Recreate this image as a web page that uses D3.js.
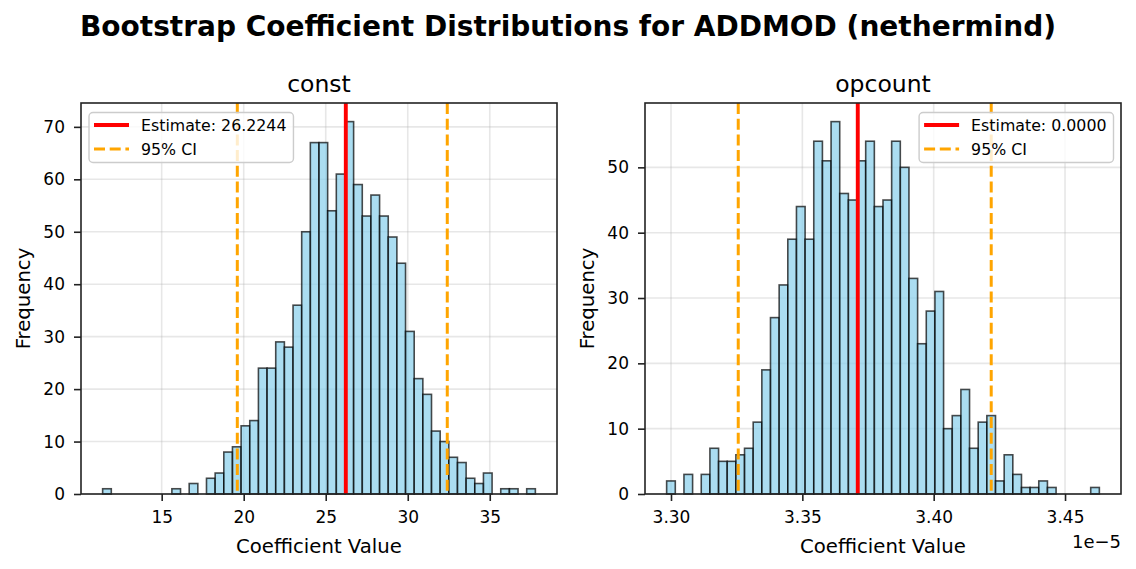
<!DOCTYPE html>
<html>
<head>
<meta charset="utf-8">
<script src="https://cdn.jsdelivr.net/npm/d3@7"></script>
<style>
  body { margin: 0; background: #fff; }
  svg { font-family: "DejaVu Sans", sans-serif; }
</style>
</head>
<body>
<main></main>
<script>
// Pre define necessary variables

const w = 1136;
const h = 569;

// bootstrap histograms, 50 bins each (counts)
const constCounts = [1, 0, 0, 0, 0, 0, 0, 0, 1, 0, 2, 0, 3, 4, 8, 9, 13, 14, 24, 24,
  29, 28, 36, 50, 67, 67, 54, 61, 71, 59, 53, 57, 53, 49, 44, 31, 22, 19, 12, 10,
  7, 6, 3, 2, 4, 0, 1, 1, 0, 1];
const constRange = [11.40, 37.78];
const constEstimate = 26.2244;
const constCI = [19.61, 32.41];
const constTicks = [15, 20, 25, 30, 35];

// opcount values are in units of 1e-5
const opcountCounts = [2, 0, 3, 0, 3, 7, 5, 5, 6, 7, 11, 19, 27, 32, 39, 44, 39, 54, 51, 57,
  46, 45, 51, 54, 44, 45, 54, 50, 33, 23, 28, 31, 10, 12, 16, 7, 11, 12, 2, 6,
  3, 1, 1, 2, 1, 0, 0, 0, 0, 1];
const opcountRange = [3.29834, 3.46307];
const opcountEstimate = 3.3711;
const opcountCI = [3.3256, 3.4219];
const opcountTicks = [3.30, 3.35, 3.40, 3.45];

const yTicksConst = [0, 10, 20, 30, 40, 50, 60, 70];
const yTicksOpcount = [0, 10, 20, 30, 40, 50];

const svg = d3.select('main').append('svg').attr('width', w).attr('height', h);

svg
  .append('text')
  .attr('x', 568)
  .attr('y', 36)
  .attr('text-anchor', 'middle')
  .style('font-size', '28px')
  .style('font-weight', 'bold')
  .text('Bootstrap Coefficient Distributions for ADDMOD (nethermind)');

const aw = 476;
const ah = 391;
const axTop = 103;

function drawPanel(opts) {
  const g = svg.append('g').attr('transform', `translate(${opts.left},${axTop})`);
  const n = opts.counts.length;
  const lo = opts.range[0];
  const hi = opts.range[1];
  const span = hi - lo;
  const step = span / n;

  const x = d3.scaleLinear().domain([lo - 0.05 * span, hi + 0.05 * span]).range([0, aw]);
  const y = d3.scaleLinear().domain([0, d3.max(opts.counts) * 1.05]).range([ah, 0]);

  // grid
  g.selectAll('.gx')
    .data(opts.xTicks)
    .enter()
    .append('line')
    .attr('x1', (d) => x(d))
    .attr('x2', (d) => x(d))
    .attr('y1', 0)
    .attr('y2', ah)
    .attr('stroke', '#b0b0b0')
    .attr('stroke-opacity', 0.3)
    .attr('stroke-width', 1.6);
  g.selectAll('.gy')
    .data(opts.yTicks)
    .enter()
    .append('line')
    .attr('x1', 0)
    .attr('x2', aw)
    .attr('y1', (d) => y(d))
    .attr('y2', (d) => y(d))
    .attr('stroke', '#b0b0b0')
    .attr('stroke-opacity', 0.3)
    .attr('stroke-width', 1.6);

  // bars
  const bins = opts.counts
    .map((c, i) => ({ x0: lo + i * step, x1: lo + (i + 1) * step, c }))
    .filter((d) => d.c > 0);
  g.selectAll('.bar')
    .data(bins)
    .enter()
    .append('rect')
    .attr('class', 'bar')
    .attr('x', (d) => x(d.x0))
    .attr('width', (d) => x(d.x1) - x(d.x0))
    .attr('y', (d) => y(d.c))
    .attr('height', (d) => y(0) - y(d.c))
    .attr('fill', 'skyblue')
    .attr('fill-opacity', 0.7)
    .attr('stroke', '#000')
    .attr('stroke-opacity', 0.7)
    .attr('stroke-width', 1.6);

  // estimate + CI lines
  g.append('line')
    .attr('x1', x(opts.estimate))
    .attr('x2', x(opts.estimate))
    .attr('y1', 0)
    .attr('y2', ah)
    .attr('stroke', 'red')
    .attr('stroke-width', 3.9);
  opts.ci.forEach((v) => {
    g.append('line')
      .attr('x1', x(v))
      .attr('x2', x(v))
      .attr('y1', 0)
      .attr('y2', ah)
      .attr('stroke', 'orange')
      .attr('stroke-width', 3)
      .attr('stroke-dasharray', '11,4.7');
  });

  // axes
  const xAxis = g
    .append('g')
    .attr('transform', `translate(0,${ah})`)
    .call(d3.axisBottom(x).tickValues(opts.xTicks).tickFormat(opts.fmt).tickSize(7).tickPadding(10));
  const yAxis = g
    .append('g')
    .call(d3.axisLeft(y).tickValues(opts.yTicks).tickFormat(d3.format('d')).tickSize(7).tickPadding(9));
  [xAxis, yAxis].forEach((a) => {
    a.select('.domain').remove();
    a.selectAll('line').attr('stroke', '#222').attr('stroke-width', 1.6);
    a.selectAll('text')
      .attr('fill', '#000')
      .style('font-size', '17px')
      .style('font-family', '"DejaVu Sans", sans-serif');
  });

  g.append('rect')
    .attr('width', aw)
    .attr('height', ah)
    .attr('fill', 'none')
    .attr('stroke', '#222')
    .attr('stroke-width', 1.6);

  // titles and labels
  g.append('text')
    .attr('x', aw / 2)
    .attr('y', -11.5)
    .attr('text-anchor', 'middle')
    .style('font-size', '23.5px')
    .text(opts.title);
  g.append('text')
    .attr('x', aw / 2)
    .attr('y', 450)
    .attr('text-anchor', 'middle')
    .style('font-size', '19.7px')
    .text('Coefficient Value');
  g.append('text')
    .attr('transform', `translate(-51,${ah / 2}) rotate(-90)`)
    .attr('text-anchor', 'middle')
    .style('font-size', '19.7px')
    .text('Frequency');
  if (opts.offset) {
    g.append('text')
      .attr('x', aw)
      .attr('y', 445)
      .attr('text-anchor', 'end')
      .style('font-size', '18px')
      .text(opts.offset);
  }

  // legend
  const leg = g.append('g');
  const box = leg.append('rect');
  const t1 = leg
    .append('text')
    .attr('x', 52)
    .attr('y', 18.5)
    .style('font-size', '15.8px')
    .text(opts.estLabel);
  leg.append('text')
    .attr('x', 52)
    .attr('y', 42.5)
    .style('font-size', '15.8px')
    .text('95% CI');
  leg.append('line')
    .attr('x1', 5)
    .attr('x2', 40)
    .attr('y1', 12.5)
    .attr('y2', 12.5)
    .attr('stroke', 'red')
    .attr('stroke-width', 3.9);
  leg.append('line')
    .attr('x1', 5)
    .attr('x2', 40)
    .attr('y1', 36.5)
    .attr('y2', 36.5)
    .attr('stroke', 'orange')
    .attr('stroke-width', 3)
    .attr('stroke-dasharray', '11,4.7');
  const bw = 52 + t1.node().getComputedTextLength() + 7;
  box
    .attr('width', bw)
    .attr('height', 50)
    .attr('rx', 4)
    .attr('fill', '#fff')
    .attr('fill-opacity', 0.8)
    .attr('stroke', '#ccc')
    .attr('stroke-width', 1.4);
  const lx = opts.legendRight ? aw - 7.5 - bw : 8;
  leg.attr('transform', `translate(${lx},9.5)`);
}

drawPanel({
  left: 81,
  title: 'const',
  counts: constCounts,
  range: constRange,
  estimate: constEstimate,
  ci: constCI,
  xTicks: constTicks,
  yTicks: yTicksConst,
  fmt: d3.format('d'),
  estLabel: `Estimate: ${constEstimate.toFixed(4)}`,
  legendRight: false,
});

drawPanel({
  left: 645,
  title: 'opcount',
  counts: opcountCounts,
  range: opcountRange,
  estimate: opcountEstimate,
  ci: opcountCI,
  xTicks: opcountTicks,
  yTicks: yTicksOpcount,
  fmt: d3.format('.2f'),
  offset: '1e\u22125',
  estLabel: `Estimate: ${(opcountEstimate * 1e-5).toFixed(4)}`,
  legendRight: true,
});
</script>
</body>
</html>
